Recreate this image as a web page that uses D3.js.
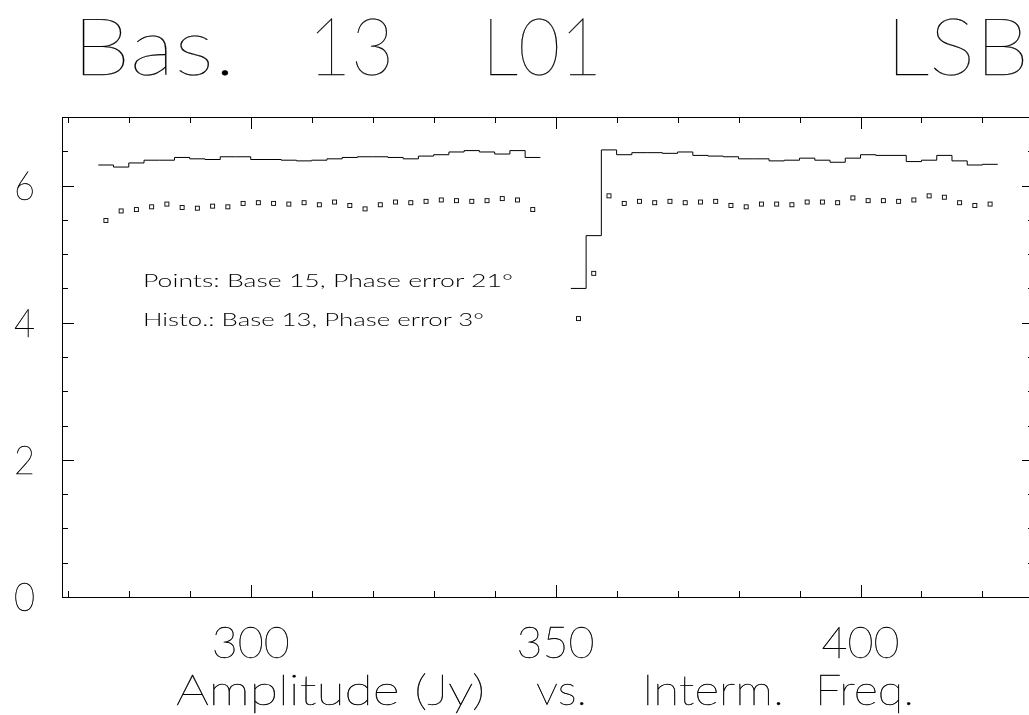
<!DOCTYPE html>
<html>
<head>
<meta charset="utf-8">
<script src="https://cdn.jsdelivr.net/npm/d3@7"></script>
<style>
  body { margin: 0; background: #fff; }
  svg { display: block; filter: grayscale(100%); }
  text { font-family: "Lato", "Roboto", sans-serif; fill: #000; }
  .title { font-weight: 100; stroke: #000; stroke-width: 0.25px; }
  .xlab, .ylab, .xtitle { font-weight: 100; stroke: #000; stroke-width: 0.4px; }
  .note { font-weight: 300; }
</style>
</head>
<body>
<div id="chart"></div>
<script>
// channel centre frequencies (MHz), two basebands
var leftFreq = [276.25, 278.75, 281.25, 283.75, 286.25, 288.75, 291.25, 293.75, 296.25, 298.75,
    301.25, 303.75, 306.25, 308.75, 311.25, 313.75, 316.25, 318.75, 321.25, 323.75,
    326.25, 328.75, 331.25, 333.75, 336.25, 338.75, 341.25, 343.75, 346.25];
var rightFreq = [353.75, 356.25, 358.75, 361.25, 363.75, 366.25, 368.75, 371.25, 373.75, 376.25,
    378.75, 381.25, 383.75, 386.25, 388.75, 391.25, 393.75, 396.25, 398.75, 401.25,
    403.75, 406.25, 408.75, 411.25, 413.75, 416.25, 418.75, 421.25];

// Histo: base 13
var leftHisto = [6.30, 6.27, 6.33, 6.37, 6.37, 6.41, 6.39, 6.38, 6.42, 6.42,
    6.38, 6.38, 6.37, 6.36, 6.37, 6.39, 6.41, 6.42, 6.42, 6.41,
    6.39, 6.43, 6.45, 6.49, 6.51, 6.49, 6.46, 6.51, 6.41];
var rightHisto = [4.50, 5.27, 6.52, 6.45, 6.48, 6.48, 6.47, 6.49, 6.44, 6.43,
    6.42, 6.39, 6.39, 6.36, 6.37, 6.40, 6.37, 6.34, 6.40, 6.45,
    6.44, 6.44, 6.35, 6.37, 6.44, 6.36, 6.30, 6.31];

// Points: base 15
var leftPoints = [5.49, 5.63, 5.65, 5.69, 5.73, 5.68, 5.67, 5.70, 5.69, 5.74,
    5.75, 5.74, 5.73, 5.75, 5.72, 5.76, 5.71, 5.66, 5.72, 5.76,
    5.75, 5.77, 5.79, 5.78, 5.77, 5.78, 5.81, 5.79, 5.65];
var rightPoints = [4.06, 4.72, 5.85, 5.74, 5.77, 5.75, 5.77, 5.75, 5.76, 5.77,
    5.71, 5.69, 5.73, 5.73, 5.72, 5.76, 5.76, 5.75, 5.82, 5.78,
    5.78, 5.77, 5.79, 5.85, 5.83, 5.75, 5.71, 5.73];

var chanWidth = 2.5;
var xMinor = [270, 280, 290, 300, 310, 320, 330, 340, 350, 360, 370, 380, 390, 400, 410, 420];
var xMajor = [300, 350, 400];
var yMinor = [0.5, 1, 1.5, 2, 2.5, 3, 3.5, 4, 4.5, 5, 5.5, 6, 6.5];
var yMajor = [0, 2, 4, 6];

var svgWidth = 1029;
var svgHeight = 715;

var margin = { top: 117, left: 62, right: -5, bottom: 118 };
var width = svgWidth - margin.left - margin.right;
var height = svgHeight - margin.top - margin.bottom;

var svg = d3.select("#chart")
    .append("svg")
    .attr("width", svgWidth)
    .attr("height", svgHeight);

var chartGroup = svg.append("g")
    .attr("transform", `translate(${margin.left}, ${margin.top})`);

var xScale = d3.scaleLinear().domain([269.05, 428.45]).range([0, width]);
var yScale = d3.scaleLinear().domain([0, 7]).range([height, 0]);

// frame
chartGroup.append("rect")
    .attr("x", 0.5).attr("y", 0.5)
    .attr("width", width).attr("height", height)
    .attr("fill", "none").attr("stroke", "#000").attr("stroke-width", 1)
    .attr("shape-rendering", "crispEdges");

// ticks pointing inward on all four sides
function tickAxis(axis, values, size, transform) {
    var g = chartGroup.append("g")
        .attr("transform", transform)
        .call(axis.tickValues(values).tickSize(-size).tickFormat(""));
    g.select(".domain").remove();
    g.selectAll("line").attr("stroke", "#000").attr("shape-rendering", "crispEdges");
}
tickAxis(d3.axisBottom(xScale), xMinor, 6, `translate(0, ${height})`);
tickAxis(d3.axisBottom(xScale), xMajor, 12, `translate(0, ${height})`);
tickAxis(d3.axisTop(xScale), xMinor, 6, "translate(0, 0)");
tickAxis(d3.axisTop(xScale), xMajor, 12, "translate(0, 0)");
tickAxis(d3.axisLeft(yScale), yMinor, 6, "translate(0, 0)");
tickAxis(d3.axisLeft(yScale), yMajor, 12, "translate(0, 0)");
tickAxis(d3.axisRight(yScale), yMinor, 6, `translate(${width}, 0)`);
tickAxis(d3.axisRight(yScale), yMajor, 12, `translate(${width}, 0)`);

// tick labels
chartGroup.selectAll(".xlab")
    .data(xMajor)
    .enter()
    .append("text")
    .attr("class", "xlab")
    .attr("x", d => xScale(d))
    .attr("y", height + 61)
    .attr("text-anchor", "middle")
    .attr("font-size", 43)
    .attr("textLength", 78)
    .attr("lengthAdjust", "spacingAndGlyphs")
    .text(d => d);

chartGroup.selectAll(".ylab")
    .data(yMajor)
    .enter()
    .append("text")
    .attr("class", "ylab")
    .attr("x", -27)
    .attr("y", d => yScale(d) + 14)
    .attr("text-anchor", "end")
    .attr("font-size", 39)
    .attr("textLength", 21)
    .attr("lengthAdjust", "spacingAndGlyphs")
    .text(d => d);

// histogram (step line)
function stepPoints(freq, vals) {
    var pts = [];
    freq.forEach(function(f, i) {
        pts.push([f - chanWidth / 2, vals[i]]);
        pts.push([f + chanWidth / 2, vals[i]]);
    });
    return pts;
}
var line = d3.line()
    .x(d => xScale(d[0]))
    .y(d => yScale(d[1]));

[[leftFreq, leftHisto], [rightFreq, rightHisto]].forEach(function(seg) {
    chartGroup.append("path")
        .attr("d", line(stepPoints(seg[0], seg[1])))
        .attr("fill", "none")
        .attr("stroke", "#000")
        .attr("stroke-width", 1);
});

// points (open squares)
var pointData = leftFreq.map((f, i) => [f, leftPoints[i]])
    .concat(rightFreq.map((f, i) => [f, rightPoints[i]]));
chartGroup.selectAll(".pt")
    .data(pointData)
    .enter()
    .append("rect")
    .attr("class", "pt")
    .attr("x", d => xScale(d[0]) - 2)
    .attr("y", d => yScale(d[1]) - 2)
    .attr("width", 4)
    .attr("height", 4)
    .attr("fill", "#fff")
    .attr("stroke", "#000")
    .attr("stroke-width", 0.9);

// annotations
chartGroup.append("text")
    .attr("class", "note")
    .attr("x", 143 - margin.left).attr("y", 287 - margin.top)
    .attr("font-size", 18)
    .attr("textLength", 370).attr("lengthAdjust", "spacingAndGlyphs")
    .text("Points: Base 15, Phase error 21°");
chartGroup.append("text")
    .attr("class", "note")
    .attr("x", 143 - margin.left).attr("y", 326 - margin.top)
    .attr("font-size", 18)
    .attr("textLength", 341).attr("lengthAdjust", "spacingAndGlyphs")
    .text("Histo.: Base 13, Phase error 3°");

// title words
var titleWords = [["Bas.", 72, 164], ["13", 308, 86], ["L01", 482, 120], ["LSB", 886, 143]];
svg.selectAll(".title")
    .data(titleWords)
    .enter()
    .append("text")
    .attr("class", "title")
    .attr("x", d => d[1])
    .attr("y", 75)
    .attr("font-size", 80)
    .attr("textLength", d => d[2])
    .attr("lengthAdjust", "spacingAndGlyphs")
    .text(d => d[0]);

// x axis title words
var xTitleWords = [["Amplitude (Jy)", 176, 309], ["vs.", 536, 51], ["Interm.", 642, 142], ["Freq.", 815, 99]];
svg.selectAll(".xtitle")
    .data(xTitleWords)
    .enter()
    .append("text")
    .attr("class", "xtitle")
    .attr("x", d => d[1])
    .attr("y", 705)
    .attr("font-size", 41)
    .attr("textLength", d => d[2])
    .attr("lengthAdjust", "spacingAndGlyphs")
    .text(d => d[0]);
</script>
</body>
</html>
